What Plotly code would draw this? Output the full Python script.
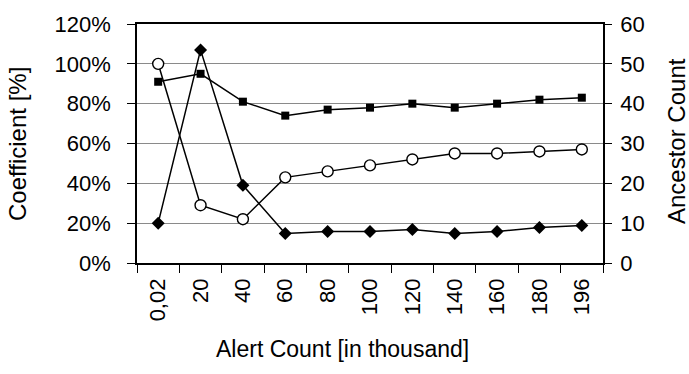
import plotly.graph_objects as go

# Alert count buckets (in thousand)
alert_counts = ["0,02", "20", "40", "60", "80", "100", "120", "140", "160", "180", "196"]

# Coefficients in percent (left axis)
coef_squares = [91, 95, 81, 74, 77, 78, 80, 78, 80, 82, 83]
coef_circles = [100, 29, 22, 43, 46, 49, 52, 55, 55, 56, 57]

# Ancestor count (right axis)
ancestor_count = [10, 53.5, 19.5, 7.4, 7.9, 7.9, 8.4, 7.4, 7.9, 8.9, 9.4]

FONT = "Liberation Sans, Arial, Helvetica, sans-serif"
LINE = dict(color="black", width=1.5)

fig = go.Figure()

fig.add_trace(go.Scatter(
    x=alert_counts, y=coef_squares, mode="lines+markers",
    line=LINE, marker=dict(symbol="square", size=8, color="black"),
    name="squares", yaxis="y",
))
fig.add_trace(go.Scatter(
    x=alert_counts, y=coef_circles, mode="lines+markers",
    line=LINE,
    marker=dict(symbol="circle", size=11, color="white",
                line=dict(color="black", width=1.4)),
    name="circles", yaxis="y",
))
fig.add_trace(go.Scatter(
    x=alert_counts, y=ancestor_count, mode="lines+markers",
    line=LINE, marker=dict(symbol="diamond", size=10, color="black"),
    name="diamonds", yaxis="y2",
))

fig.update_layout(
    width=689, height=374,
    margin=dict(l=137, r=86, t=22, b=111, pad=0),
    paper_bgcolor="white", plot_bgcolor="white",
    showlegend=False,
    font=dict(family=FONT, size=22, color="black"),
    xaxis=dict(
        type="category", tickson="boundaries",
        ticks="outside", ticklen=8, tickwidth=1.2, tickcolor="black",
        tickangle=-90, tickfont=dict(size=22), ticklabelstandoff=5,
        showline=True, linecolor="black", linewidth=1.5, mirror=True,
        showgrid=False, zeroline=False,
        range=[-0.5, 10.5],
    ),
    yaxis=dict(
        range=[0, 120], dtick=20, ticksuffix="%",
        ticks="outside", ticklen=8, tickwidth=1.2, tickcolor="black",
        tickfont=dict(size=22), ticklabelstandoff=12,
        showline=True, linecolor="black", linewidth=1.5,
        showgrid=True, gridcolor="#8a8a8a", gridwidth=1,
        zeroline=False,
    ),
    yaxis2=dict(
        range=[0, 60], dtick=10, overlaying="y", side="right",
        ticks="outside", ticklen=7, tickwidth=1.2, tickcolor="black",
        tickfont=dict(size=22), ticklabelstandoff=4,
        showline=True, linecolor="black", linewidth=1.5,
        showgrid=False, zeroline=False,
    ),
    annotations=[
        dict(text="Coefficient [%]", x=18, y=143, xref="paper", yref="paper",
             showarrow=False, textangle=-90, font=dict(size=24),
             xanchor="center", yanchor="middle"),
        dict(text="Ancestor Count", x=676, y=140, xref="paper", yref="paper",
             showarrow=False, textangle=-90, font=dict(size=24),
             xanchor="center", yanchor="middle"),
        dict(text="Alert Count [in thousand]", x=342, y=350, xref="paper", yref="paper",
             showarrow=False, font=dict(size=23),
             xanchor="center", yanchor="middle"),
    ],
)

# Annotation coordinates above are in pixels; convert to paper fractions
plot_w = 689 - 137 - 86
plot_h = 374 - 22 - 111
for ann in fig.layout.annotations:
    ann.x = (ann.x - 137) / plot_w
    ann.y = (374 - 111 - ann.y) / plot_h

fig.write_html("out.html")
